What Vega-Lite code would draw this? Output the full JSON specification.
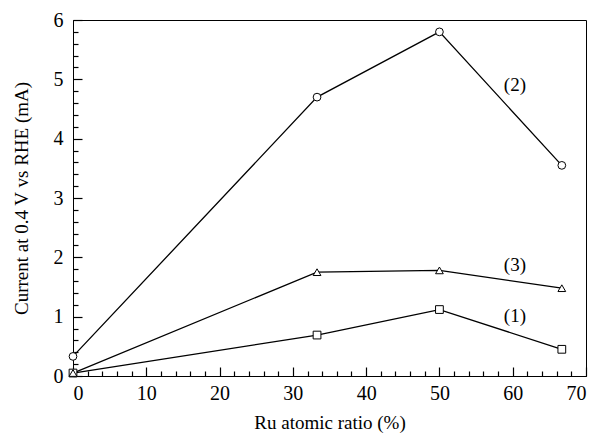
{
  "$schema": "https://vega.github.io/schema/vega-lite/v6.json",
  "width": 513,
  "height": 356,
  "autosize": "none",
  "padding": {"left": 73, "top": 20, "right": 15, "bottom": 58},
  "background": "white",
  "config": {
    "view": {"stroke": "black", "strokeWidth": 1},
    "axis": {
      "grid": false,
      "domainColor": "black",
      "tickColor": "black",
      "labelColor": "black",
      "titleColor": "black",
      "labelFont": "Liberation Serif",
      "titleFont": "Liberation Serif",
      "labelFontSize": 20,
      "titleFontSize": 19,
      "titleFontWeight": "normal",
      "labelOverlap": false,
      "tickWidth": 1.2
    }
  },
  "datasets": {
    "pts": [
      {"ratio": 0, "current": 0.05, "series": "(1)"},
      {"ratio": 33.3, "current": 0.69, "series": "(1)"},
      {"ratio": 50, "current": 1.12, "series": "(1)"},
      {"ratio": 66.7, "current": 0.45, "series": "(1)"},
      {"ratio": 0, "current": 0.33, "series": "(2)"},
      {"ratio": 33.3, "current": 4.7, "series": "(2)"},
      {"ratio": 50, "current": 5.8, "series": "(2)"},
      {"ratio": 66.7, "current": 3.55, "series": "(2)"},
      {"ratio": 0, "current": 0.05, "series": "(3)"},
      {"ratio": 33.3, "current": 1.75, "series": "(3)"},
      {"ratio": 50, "current": 1.78, "series": "(3)"},
      {"ratio": 66.7, "current": 1.48, "series": "(3)"}
    ],
    "labels": [
      {"ratio": 60.3, "current": 4.9, "label": "(2)"},
      {"ratio": 60.3, "current": 1.87, "label": "(3)"},
      {"ratio": 60.3, "current": 1.01, "label": "(1)"}
    ]
  },
  "resolve": {"axis": {"x": "independent", "y": "independent"}},
  "layer": [
    {
      "data": {"name": "pts"},
      "mark": {"type": "line", "color": "black", "strokeWidth": 1.3},
      "encoding": {
        "x": {
          "field": "ratio", "type": "quantitative",
          "scale": {"domain": [0, 70], "nice": false, "zero": false},
          "axis": {
            "orient": "bottom",
            "title": "Ru atomic ratio (%)",
            "values": [0, 10, 20, 30, 40, 50, 60, 70],
            "format": "d",
            "tickSize": -9,
            "labelPadding": 16,
            "titlePadding": 10
          }
        },
        "y": {
          "field": "current", "type": "quantitative",
          "scale": {"domain": [0, 6], "nice": false},
          "axis": {
            "orient": "left",
            "title": "Current at 0.4 V vs RHE (mA)",
            "values": [0, 1, 2, 3, 4, 5, 6],
            "format": "d",
            "tickSize": -9,
            "labelPadding": 19,
            "titlePadding": 22
          }
        },
        "detail": {"field": "series"}
      }
    },
    {
      "data": {"name": "pts"},
      "mark": {"type": "point", "filled": true, "fill": "white", "stroke": "black", "strokeWidth": 1, "size": 60, "opacity": 1},
      "encoding": {
        "x": {
          "field": "ratio", "type": "quantitative",
          "axis": {
            "orient": "bottom",
            "title": null,
            "values": [2,4,6,8,12,14,16,18,22,24,26,28,32,34,36,38,42,44,46,48,52,54,56,58,62,64,66,68],
            "labels": false,
            "domain": false,
            "tickSize": -5,
            "offset": 0
          }
        },
        "y": {
          "field": "current", "type": "quantitative",
          "axis": {
            "orient": "left",
            "title": null,
            "values": [0.2,0.4,0.6,0.8,1.2,1.4,1.6,1.8,2.2,2.4,2.6,2.8,3.2,3.4,3.6,3.8,4.2,4.4,4.6,4.8,5.2,5.4,5.6,5.8],
            "labels": false,
            "domain": false,
            "tickSize": -5,
            "offset": 0
          }
        },
        "shape": {
          "field": "series", "type": "nominal",
          "scale": {"domain": ["(1)", "(2)", "(3)"], "range": ["square", "circle", "triangle-up"]},
          "legend": null
        }
      }
    },
    {
      "data": {"name": "labels"},
      "mark": {"type": "text", "font": "Liberation Serif", "fontSize": 19, "color": "black", "align": "center", "baseline": "middle"},
      "encoding": {
        "x": {"field": "ratio", "type": "quantitative", "axis": null},
        "y": {"field": "current", "type": "quantitative", "axis": null},
        "text": {"field": "label"}
      }
    }
  ]
}
